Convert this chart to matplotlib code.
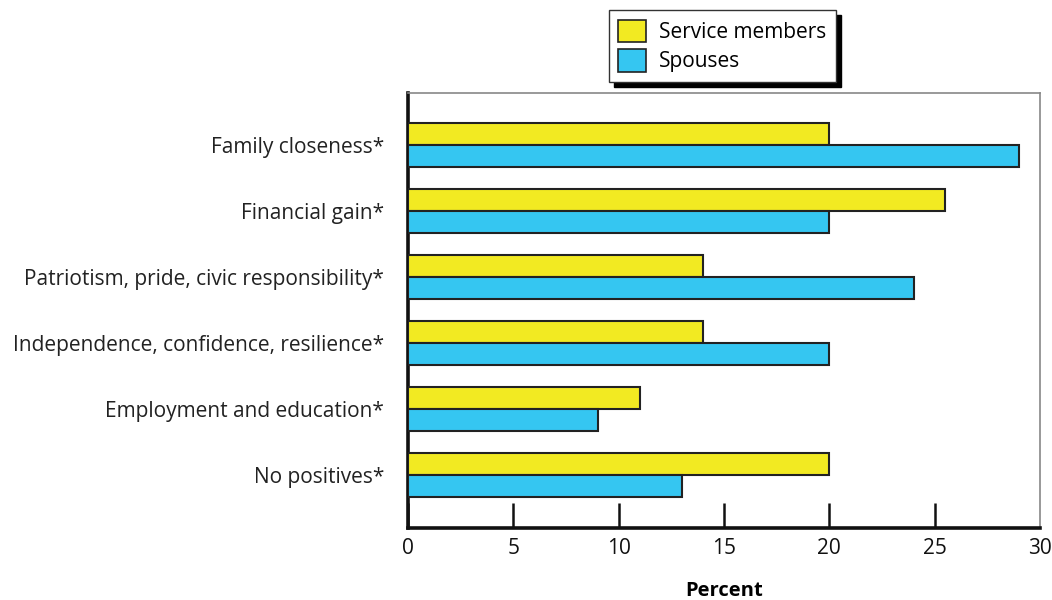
import numpy as np
import matplotlib.pyplot as plt
from matplotlib.patches import Patch

plt.rcParams['font.family'] = ['Open Sans', 'DejaVu Sans']

categories = [
    "Family closeness*",
    "Financial gain*",
    "Patriotism, pride, civic responsibility*",
    "Independence, confidence, resilience*",
    "Employment and education*",
    "No positives*",
]
service_members = [20, 25.5, 14, 14, 11, 20]
spouses = [29, 20, 24, 20, 9, 13]

yellow = "#f2ea22"
blue = "#35c6f1"
fs = 15

fig = plt.figure(figsize=(10.52, 6), dpi=100)
ax = fig.add_axes([0.3878, 0.12, 0.6008, 0.725])

y = np.arange(len(categories))
h = 1 / 3
ax.barh(y - h / 2, service_members, height=h, color=yellow,
        edgecolor="#222222", linewidth=1.5, zorder=3)
ax.barh(y + h / 2, spouses, height=h, color=blue,
        edgecolor="#222222", linewidth=1.5, zorder=3)

ax.set_ylim(len(categories) - 1 + 0.8, -0.79)
ax.set_xlim(0, 30)
ax.set_yticks(y)
ax.set_yticklabels(categories, fontsize=fs, color="#222222")
ax.tick_params(axis="y", length=0, pad=17)
ax.set_xticks(range(0, 31, 5))
ax.tick_params(axis="x", direction="in", length=18, width=1.8,
               labelsize=fs, pad=7, colors="#111111")
ax.xaxis.get_major_ticks()[-1].tick1line.set_visible(False)
ax.set_xlabel("Percent", fontsize=fs - 0.5, fontweight="bold", labelpad=16)

for side in ("left", "bottom"):
    ax.spines[side].set_linewidth(2.6)
    ax.spines[side].set_color("#111111")
for side in ("top", "right"):
    ax.spines[side].set_linewidth(1.2)
    ax.spines[side].set_color("#888888")

handles = [
    Patch(facecolor=yellow, edgecolor="#222222", linewidth=1.2, label="Service members"),
    Patch(facecolor=blue, edgecolor="#222222", linewidth=1.2, label="Spouses"),
]
leg = fig.legend(handles=handles, loc="upper left", bbox_to_anchor=(0.579, 0.983),
                 borderaxespad=0, fontsize=fs, frameon=True, fancybox=False,
                 shadow={'color': 'black', 'alpha': 1, 'ox': 3.5, 'oy': -3.5},
                 handlelength=1.3, handleheight=1.3, borderpad=0.45, labelspacing=0.3,
                 handletextpad=0.65)
leg.get_frame().set_edgecolor("#333333")
leg.get_frame().set_linewidth(1.0)

fig.savefig("out.png", dpi=100)
